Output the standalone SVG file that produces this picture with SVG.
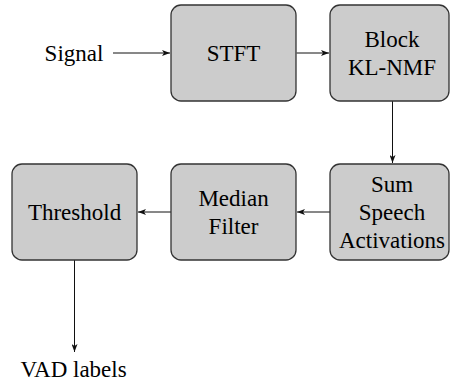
<svg xmlns="http://www.w3.org/2000/svg" width="450" height="381" viewBox="0 0 450 381">
<style>
.box{fill:#cccccc;stroke:#333333;stroke-width:1.3}
</style>
<defs>
<marker id="ah" viewBox="0 0 8 6" refX="8" refY="3" markerWidth="8" markerHeight="6" markerUnits="userSpaceOnUse" orient="auto">
<path d="M0,0 L8,3 L0,6 L2,3 Z" fill="#111111"/>
</marker>
</defs>
<g id="connectors" stroke="#111111" stroke-width="1" fill="none" marker-end="url(#ah)">
<line x1="113" y1="53" x2="170" y2="53"/>
<line x1="296.5" y1="53" x2="329" y2="53"/>
<line x1="392.5" y1="101" x2="392.5" y2="163"/>
<line x1="330" y1="212" x2="297" y2="212"/>
<line x1="171" y1="212" x2="138" y2="212"/>
<line x1="74.5" y1="260" x2="74.5" y2="352"/>
</g>
<g id="signal"><text x="44.6" y="60.5" style="font-family:'Times New Roman';font-size:23px">Signal</text></g>
<g id="stft">
<rect class="box" x="171" y="5" width="125" height="96" rx="10"/>
<text x="206.7" y="60.5" style="font-family:'Times New Roman';font-size:23px">STFT</text>
</g>
<g id="block">
<rect class="box" x="330" y="5" width="119" height="96" rx="10"/>
<text x="364.5" y="46.5" style="font-family:'Times New Roman';font-size:23px">Block</text>
<text x="347.9" y="74.5" style="font-family:'Times New Roman';font-size:23px">KL-NMF</text>
</g>
<g id="sum">
<rect class="box" x="330" y="164" width="119" height="96" rx="10"/>
<text x="370.9" y="191.5" style="font-family:'Times New Roman';font-size:23px">Sum</text>
<text x="358.8" y="219.5" style="font-family:'Times New Roman';font-size:23px">Speech</text>
<text x="339" y="247.5" style="font-family:'Times New Roman';font-size:23px">Activations</text>
</g>
<g id="median">
<rect class="box" x="171" y="164" width="125" height="96" rx="10"/>
<text x="198.4" y="205.5" style="font-family:'Times New Roman';font-size:23px">Median</text>
<text x="208.6" y="233.5" style="font-family:'Times New Roman';font-size:23px">Filter</text>
</g>
<g id="threshold">
<rect class="box" x="12" y="164" width="125" height="96" rx="10"/>
<text x="27.9" y="219.5" style="font-family:'Times New Roman';font-size:23px">Threshold</text>
</g>
<g id="vad"><text x="20.4" y="377" style="font-family:'Times New Roman';font-size:23px">VAD labels</text></g>
</svg>
